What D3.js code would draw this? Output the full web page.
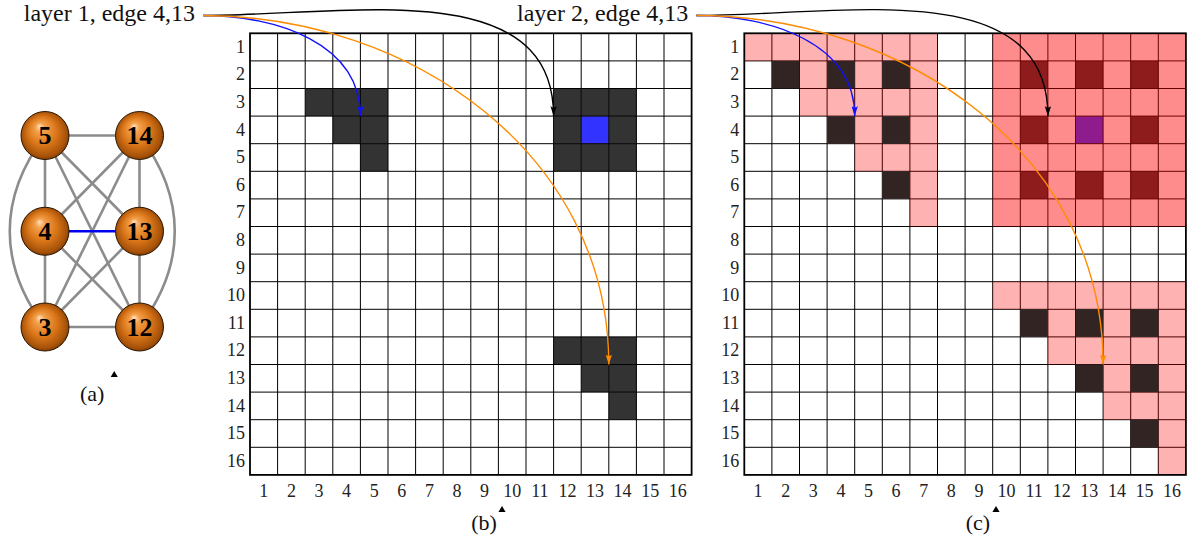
<!DOCTYPE html>
<html><head><meta charset="utf-8">
<script src="https://cdn.jsdelivr.net/npm/d3@7"></script>
<style>body{margin:0;background:#fff}svg{display:block}</style>
</head><body>
<svg id="fig" width="1191" height="541"></svg>
<script>
// ---------------- data ----------------
const tickLabels = ["1","2","3","4","5","6","7","8","9","10","11","12","13","14","15","16"];
const titles = ["layer 1, edge 4,13", "layer 2, edge 4,13"];
const panelLabels = ["(a)", "(b)", "(c)"];

// graph (a): node ids laid out in a 3x2 grid
const nodeGrid = [[5, 14], [4, 13], [3, 12]];
const straightEdges = [[5,14],[5,4],[5,13],[5,12],[14,4],[14,3],[14,13],[4,3],[4,12],[13,3],[13,12],[3,12]];
const bentEdges = [[5,3],[14,12]];
const highlightEdge = [4,13];

// layer 1 matrix (b): [row, col]
const layer1Dark = [[3,3],[3,4],[3,5],[4,4],[4,5],[5,5],
                    [3,12],[3,13],[3,14],[4,12],[4,14],[5,12],[5,13],[5,14],
                    [12,12],[12,13],[12,14],[13,13],[13,14],[14,14]];
const layer1Edge = [[4,13]];

// layer 2 matrix (c): rows -> columns
const layer2Light = [[1,[1,2,3,4,5,6,7]],[2,[3,5,7]],[3,[3,4,5,6,7]],[4,[5,7]],[5,[5,6,7]],[6,[7]],[7,[7]],
                     [10,[10,11,12,13,14,15,16]],[11,[12,14,16]],[12,[12,13,14,15,16]],[13,[14,16]],[14,[14,15,16]],[15,[16]],[16,[16]]];
const layer2Dark = [[2,[2,4,6]],[4,[4,6]],[6,[6]],[11,[11,13,15]],[13,[13,15]],[15,[15]]];
const layer2Block = [[1,[10,11,12,13,14,15,16]],[2,[10,11,12,13,14,15,16]],[3,[10,11,12,13,14,15,16]],
                     [4,[10,11,12,13,14,15,16]],[5,[10,11,12,13,14,15,16]],[6,[10,11,12,13,14,15,16]],[7,[10,11,12,13,14,15,16]]];
const layer2BlockDark = [[2,[11,13,15]],[4,[11,15]],[6,[11,13,15]]];
const layer2Edge = [[4,13]];

// arrow targets: [row, col] of the cell whose top-left corner is pointed at
const arrowTargets = [["blue",4,5],["black",4,12],["orange",13,14]];

const expand = rows => rows.flatMap(([r, cs]) => cs.map(c => [r, c]));

// ---------------- drawing ----------------
const svg = d3.select("#fig");
const serif = "'Liberation Serif','Times New Roman',serif";
const defs = svg.append("defs");

const y = d3.scaleBand().domain(tickLabels).range([33.3, 474.9]);
const xB = d3.scaleBand().domain(tickLabels).range([250, 691.6]);
const xC = d3.scaleBand().domain(tickLabels).range([744.3, 1185.9]);

const arrowColors = {blue:"#1010ff", black:"#000", orange:"#ff8c00"};
Object.entries(arrowColors).forEach(([k, c]) => {
  defs.append("marker").attr("id", "m-" + k)
    .attr("viewBox", "0 -3.2 10 6.4").attr("refX", 10).attr("refY", 0)
    .attr("markerUnits", "userSpaceOnUse").attr("markerWidth", 10).attr("markerHeight", 6.4)
    .attr("orient", "auto")
    .append("path").attr("d", "M0,-3.2 Q3,0 0,3.2 L10,0 Z").attr("fill", c);
});

function cells(g, x, list, fill, opacity) {
  g.selectAll(null).data(list).join("rect")
    .attr("x", d => x(String(d[1]))).attr("y", d => y(String(d[0])))
    .attr("width", x.bandwidth()).attr("height", y.bandwidth())
    .attr("fill", fill).attr("fill-opacity", opacity == null ? 1 : opacity);
}
function grid(g, x) {
  const xs = tickLabels.slice(1).map(t => x(t));
  const ys = tickLabels.slice(1).map(t => y(t));
  const [x0, x1] = x.range(), [y0, y1] = y.range();
  g.selectAll(null).data(xs).join("line").attr("x1", d => d).attr("x2", d => d)
    .attr("y1", y0).attr("y2", y1).attr("stroke", "#000").attr("stroke-width", 1);
  g.selectAll(null).data(ys).join("line").attr("y1", d => d).attr("y2", d => d)
    .attr("x1", x0).attr("x2", x1).attr("stroke", "#000").attr("stroke-width", 1);
}
function border(g, x) {
  const [x0, x1] = x.range(), [y0, y1] = y.range();
  g.append("rect").attr("x", x0).attr("y", y0).attr("width", x1 - x0).attr("height", y1 - y0)
    .attr("fill", "none").attr("stroke", "#000").attr("stroke-width", 1.8);
}
function axes(g, x) {
  const [x0] = x.range(), [, y1] = y.range();
  const left = g.append("g").attr("transform", `translate(${x0},0)`)
    .call(d3.axisLeft(y).tickSize(0).tickPadding(5));
  const bottom = g.append("g").attr("transform", `translate(0,${y1})`)
    .call(d3.axisBottom(x).tickSize(0).tickPadding(9));
  [left, bottom].forEach(a => {
    a.select(".domain").remove();
    a.selectAll("text").attr("font-family", serif).attr("font-size", 18).attr("fill", "#222");
  });
}

// panel (b)
const gB = svg.append("g");
cells(gB, xB, layer1Dark, "#333");
cells(gB, xB, layer1Edge, "#3333ff");
grid(gB, xB);
border(gB, xB);
axes(gB, xB);

// panel (c)
const gC = svg.append("g");
cells(gC, xC, expand(layer2BlockDark), "#333");
cells(gC, xC, layer2Edge, "#3333ff");
grid(gC, xC);
cells(gC, xC, expand(layer2Light), "#ff0000", 0.3);
cells(gC, xC, expand(layer2Block), "#ff0000", 0.45);
cells(gC, xC, expand(layer2Dark), "#332424");
border(gC, xC);
axes(gC, xC);

// titles + curved arrows
const titleRight = [xB.range()[0] - 55, xC.range()[0] - 56];
const panels = [xB, xC];
titles.forEach((t, i) => {
  const txt = svg.append("text").attr("x", titleRight[i]).attr("y", 21)
    .attr("text-anchor", "end").attr("font-family", serif).attr("font-size", 24).attr("fill", "#111").text(t);
  const bb = txt.node().getBBox();
  const sx = bb.x + bb.width + 8, sy = 15.5;
  arrowTargets.forEach(([c, r, col]) => {
    const tx = panels[i](String(col)), ty = y(String(r));
    const d = 0.3915 * Math.hypot(tx - sx, ty - sy);
    svg.append("path")
      .attr("d", `M${sx},${sy} C${sx + d},${sy} ${tx},${ty - d} ${tx},${ty}`)
      .attr("fill", "none").attr("stroke", arrowColors[c]).attr("stroke-width", 1.4)
      .attr("marker-end", `url(#m-${c})`);
  });
});

// graph (a)
const gx = d3.scalePoint().domain([0, 1]).range([45, 139.5]);
const gy = d3.scalePoint().domain([0, 1, 2]).range([135.5, 327]);
const pos = {};
nodeGrid.forEach((row, ri) => row.forEach((id, ci) => pos[id] = [gx(ci), gy(ri)]));
const gA = svg.append("g");
gA.selectAll(null).data(straightEdges).join("line")
  .attr("x1", d => pos[d[0]][0]).attr("y1", d => pos[d[0]][1])
  .attr("x2", d => pos[d[1]][0]).attr("y2", d => pos[d[1]][1])
  .attr("stroke", "#8c8c8c").attr("stroke-width", 2.6);
gA.selectAll(null).data(bentEdges).join("path")
  .attr("d", d => {
    const [ax, ay] = pos[d[0]], [bx, by] = pos[d[1]];
    const out = ax < d3.mean(gx.range()) ? -47 : 47;
    return `M${ax},${ay} C${ax + out},${ay + 62} ${bx + out},${by - 62} ${bx},${by}`;
  })
  .attr("fill", "none").attr("stroke", "#8c8c8c").attr("stroke-width", 2.6);
gA.append("line")
  .attr("x1", pos[highlightEdge[0]][0]).attr("y1", pos[highlightEdge[0]][1])
  .attr("x2", pos[highlightEdge[1]][0]).attr("y2", pos[highlightEdge[1]][1])
  .attr("stroke", "#0000ee").attr("stroke-width", 2.6);

const grad = defs.append("radialGradient").attr("id", "ball")
  .attr("cx", "0.5").attr("cy", "0.5").attr("r", "0.55").attr("fx", "0.38").attr("fy", "0.3");
[[0, "#fde2c2"], [0.18, "#f4a04a"], [0.55, "#d97518"], [0.85, "#a65209"], [1, "#6a3000"]]
  .forEach(([o, c]) => grad.append("stop").attr("offset", o).attr("stop-color", c));
const nodeG = gA.selectAll(null).data(Object.keys(pos)).join("g")
  .attr("transform", d => `translate(${pos[d][0]},${pos[d][1]})`);
nodeG.append("circle").attr("r", 24).attr("fill", "url(#ball)").attr("stroke", "#2a1500").attr("stroke-width", 1);
nodeG.append("text").attr("text-anchor", "middle").attr("dy", "0.34em")
  .attr("font-family", serif).attr("font-weight", "bold").attr("font-size", 26).attr("fill", "#000")
  .text(d => d);

// panel labels with small triangle markers
const labelPos = [[d3.mean(gx.range()), 401], [484, 530], [978, 530]];
panelLabels.forEach((t, i) => {
  const [lx, ly] = labelPos[i];
  svg.append("text").attr("x", lx).attr("y", ly).attr("text-anchor", "middle")
    .attr("font-family", serif).attr("font-size", 22).attr("fill", "#111").text(t);
  svg.append("path")
    .attr("transform", `translate(${lx + (i === 0 ? 22 : 18)},${ly - (i === 0 ? 26 : 20)})`)
    .attr("d", d3.symbol(d3.symbolTriangle, 22)).attr("fill", "#000");
});
</script>
</body></html>
